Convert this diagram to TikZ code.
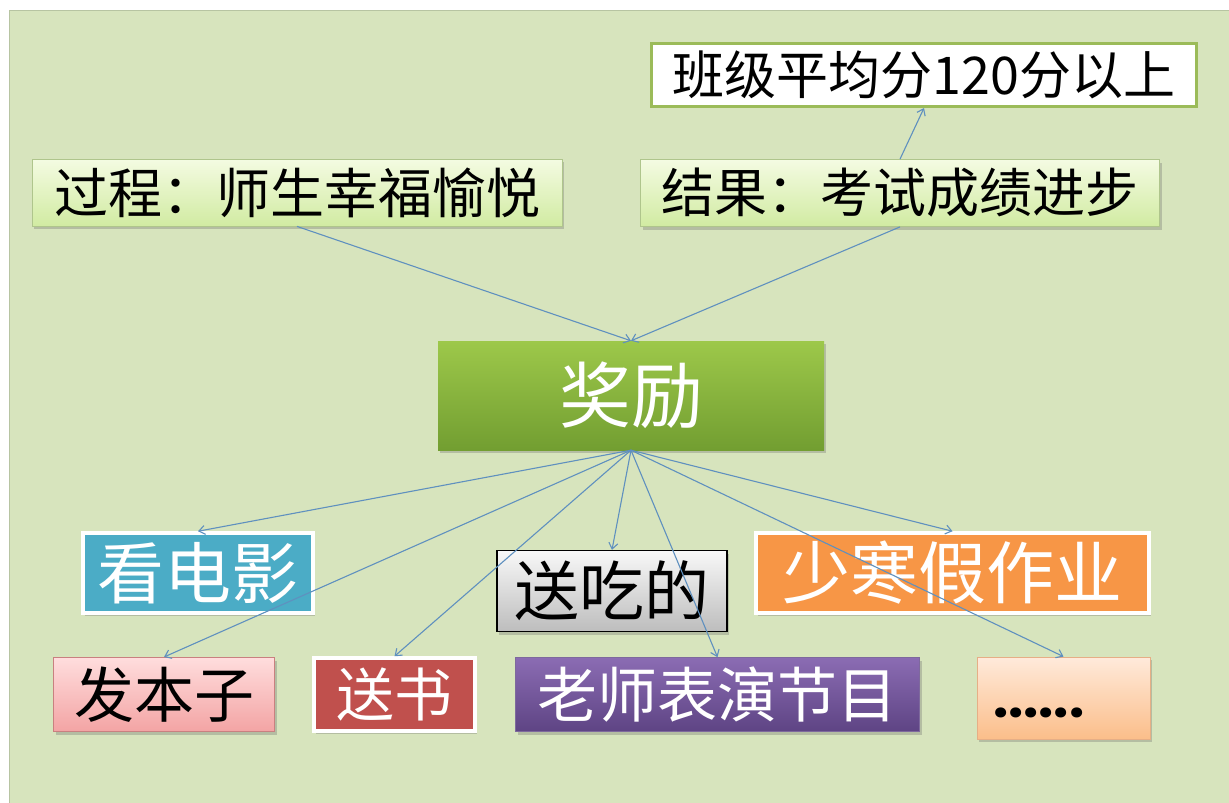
\documentclass[tikz,border=0pt]{standalone}
\usepackage{fontspec}
\setmainfont{Noto Sans CJK SC}
\newfontfamily\dotfont{Poppins}
\usetikzlibrary{arrows.meta,shadows}
\newcommand\fsz[1]{\fontsize{#1pt}{#1pt}\selectfont}
\definecolor{bg}{HTML}{D7E4BD}
\definecolor{bgedge}{HTML}{B7C4A2}
\definecolor{pgtop}{HTML}{F4FBE2}
\definecolor{pgbot}{HTML}{D1EBA2}
\definecolor{pgedge}{HTML}{AFC58C}
\definecolor{olive}{HTML}{9BBB59}
\definecolor{jltop}{HTML}{9DC84A}
\definecolor{jlbot}{HTML}{729E31}
\definecolor{teal}{HTML}{4BACC6}
\definecolor{orng}{HTML}{F79646}
\definecolor{brick}{HTML}{C0504D}
\definecolor{gtop}{HTML}{F8F8F8}
\definecolor{gbot}{HTML}{BDBDBD}
\definecolor{ptop}{HTML}{FFDDDD}
\definecolor{pbot}{HTML}{F3A4A4}
\definecolor{pedge}{HTML}{C98080}
\definecolor{vtop}{HTML}{8B6CB3}
\definecolor{vbot}{HTML}{5E4484}
\definecolor{ctop}{HTML}{FFEADB}
\definecolor{cbot}{HTML}{FBBE8A}
\definecolor{cedge}{HTML}{E6AE86}
\definecolor{arrowblue}{HTML}{5F90BF}
\begin{document}
\begin{tikzpicture}[x=1pt,y=-1pt,
  box/.style={rectangle, inner sep=0pt, align=center},
  sh/.style={drop shadow={shadow xshift=2pt, shadow yshift=-3pt, opacity=0.3, fill=black!60}},
  whitebox/.style={box, sh, draw=white, line width=3.5pt, text=white},
  arr/.style={draw=arrowblue, line width=1.1pt, -{Straight Barb[length=6pt,width=9pt]}}]
\useasboundingbox (0,0) rectangle (1229,803);
\fill[white] (0,0) rectangle (1229,803);
\filldraw[fill=bg, draw=bgedge, line width=1pt] (9,10) rectangle (1230,804);

% top boxes
\node[box, sh, minimum width=530pt, minimum height=67pt, top color=pgtop, bottom color=pgbot, draw=pgedge, line width=0.8pt, font=\fsz{54}] (guocheng) at (297,192.5) {过程：师生幸福愉悦};
\node[box, sh, minimum width=519pt, minimum height=67pt, top color=pgtop, bottom color=pgbot, draw=pgedge, line width=0.8pt, font=\fsz{53}] (jieguo) at (900,193) {结果：考试成绩进步};
\node[box, fill=white, draw=olive, line width=3pt, minimum width=545pt, minimum height=63pt, font=\fsz{52}] (banji) at (924,75) {班级平均分120分以上};

% center
\node[box, sh, minimum width=386pt, minimum height=109pt, top color=jltop, bottom color=jlbot, text=white, font=\fsz{72}] (jiangli) at (631,395.5) {奖励};

% second row
\node[whitebox, fill=teal, minimum width=230pt, minimum height=80pt, font=\fsz{67}] (kan) at (198,573) {看电影};
\node[whitebox, fill=orng, minimum width=393pt, minimum height=80pt, font=\fsz{68}] (shao) at (952.5,573) {少寒假作业};
\node[box, sh, top color=gtop, bottom color=gbot, draw=black, line width=1.3pt, minimum width=230pt, minimum height=81pt, font=\fsz{65}] (songchi) at (612,591) {送吃的};

% third row
\node[box, sh, top color=ptop, bottom color=pbot, draw=pedge, line width=1pt, minimum width=221pt, minimum height=74pt, font=\fsz{60}] (faben) at (164,694.5) {发本子};
\node[whitebox, fill=brick, minimum width=161pt, minimum height=73pt, font=\fsz{58}] (songshu) at (394.5,694.5) {送书};
\node[box, sh, top color=vtop, bottom color=vbot, draw=vbot!80!white, line width=0.6pt, text=white, minimum width=404pt, minimum height=74pt, font=\fsz{60}] (laoshi) at (717.5,694.5) {老师表演节目};
\node[box, sh, top color=ctop, bottom color=cbot, draw=cedge, line width=0.8pt, minimum width=173pt, minimum height=82pt, text height=38pt, text depth=0pt, font=\dotfont\bfseries\fsz{54}] (more) at (1063.5,698) {\makebox[141pt][l]{......}};

% connectors
\draw[arr] (guocheng.south) -- (jiangli.north);
\draw[arr] (jieguo.south) -- (jiangli.north);
\draw[arr] (jieguo.north) -- (banji.south);
\draw[arr] (jiangli.south) -- (kan.north);
\draw[arr] (jiangli.south) -- (faben.north);
\draw[arr] (jiangli.south) -- (songshu.north);
\draw[arr] (jiangli.south) -- (songchi.north);
\draw[arr] (jiangli.south) -- (laoshi.north);
\draw[arr] (jiangli.south) -- (shao.north);
\draw[arr] (jiangli.south) -- (more.north);
\end{tikzpicture}
\end{document}
